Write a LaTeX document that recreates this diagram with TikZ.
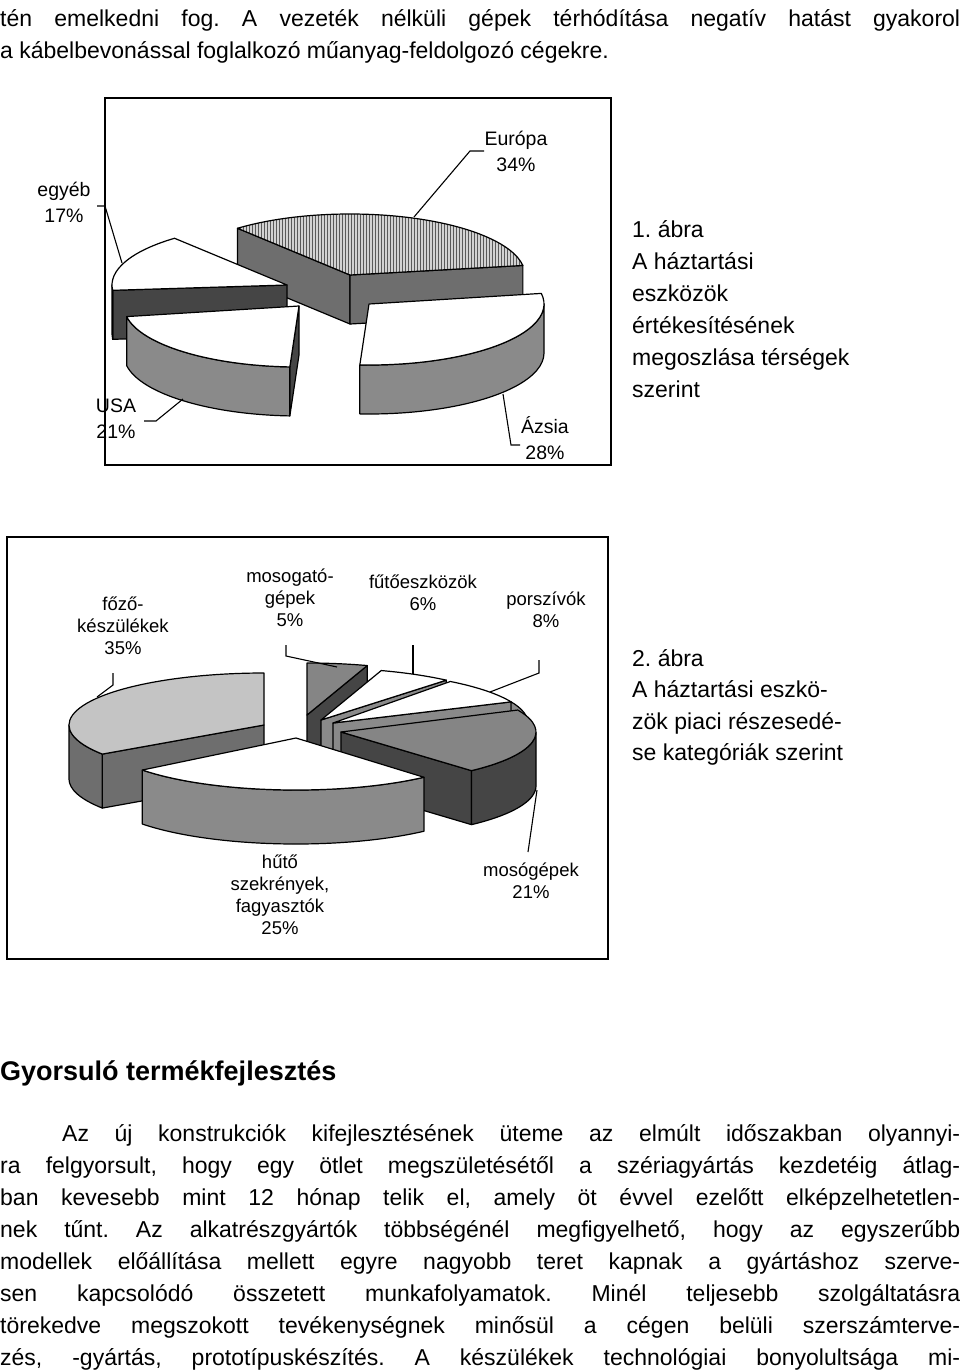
\documentclass[tikz,border=0pt]{standalone}
\usepackage{fontspec}
\setmainfont{Liberation Sans}
\frenchspacing
\usetikzlibrary{calc,patterns}
\definecolor{sidemid}{HTML}{8A8A8A}
\definecolor{sidedark}{HTML}{454545}
\definecolor{sideeu}{HTML}{6E6E6E}
\definecolor{topmid}{HTML}{858585}
\definecolor{toplight}{HTML}{C4C4C4}
\newcommand\ptop[7]{\filldraw[#7,draw=black,line width=1.2pt,line join=round] (#1,#2) -- ++(#5:#3 and #4) arc (#5:#6:#3 and #4) -- cycle;}
\newcommand\pside[8]{\filldraw[fill=#8,draw=black,line width=1.2pt,line join=round] ($(#1,#2)+(#5:#3 and #4)$) arc (#5:#6:#3 and #4) -- ++(0,#7) arc (#6:#5:#3 and #4) -- cycle;}
\newcommand\prad[7]{\filldraw[fill=#7,draw=black,line width=1.2pt,line join=round] (#1,#2) -- ++(#5:#3 and #4) -- ++(0,#6) -- (#1,#2+#6) -- cycle;}
\tikzset{lead/.style={draw=black,line width=1.1pt},
 clab/.style={font=\fontsize{19.5}{26}\selectfont,align=center,inner sep=0pt},
 dlab/.style={font=\fontsize{18.5}{22}\selectfont,align=center,inner sep=0pt},
 body/.style={font=\fontsize{23}{28}\selectfont,anchor=base west,inner sep=0pt},
 frame/.style={draw=black,line width=1.6pt}}
\begin{document}
\begin{tikzpicture}[x=1pt,y=-1pt]
\useasboundingbox (0,0) rectangle (960,1371);
% top text
\node[body] (t1) at (0,26) {\makebox[960pt][s]{tén emelkedni fog. A vezeték nélküli gépek térhódítása negatív hatást gyakorol}};
\node[body] (t2) at (0,58) {a kábelbevonással foglalkozó műanyag-feldolgozó cégekre.};
% chart 1
\draw[frame] (105,98) rectangle (611,465);
% Europe
\prad{350}{275}{175}{61}{230}{49}{sideeu}
\prad{350}{275}{175}{61}{351}{49}{sideeu}
\ptop{350}{275}{175}{61}{230}{351}{preaction={fill=gray!35},pattern=vertical lines,pattern color=gray!70!black}
% egyeb
\prad{287}{285}{175}{61}{175}{49}{sidedark}
\pside{287}{285}{175}{61}{175}{180}{49}{sidedark}
\ptop{287}{285}{175}{61}{175}{230}{fill=white}
% Azsia
\pside{369}{304}{175}{61}{0}{93}{49}{sidemid}
\ptop{369}{304}{175}{61}{350}{453}{fill=white}
% USA
\prad{299}{306}{175}{61}{93}{49}{sidedark}
\pside{299}{306}{175}{61}{93}{170}{49}{sidemid}
\ptop{299}{306}{175}{61}{93}{170}{fill=white}
% labels chart 1
\node[clab] (eu) at (516,151) {Európa\\34\%};
\node[clab] (eg) at (64,202) {egyéb\\17\%};
\node[clab] (us) at (116,419) {USA\\21\%};
\node[clab] (az) at (545,438) {Ázsia\\28\%};
\coordinate (eu1) at (414,217); \coordinate (eu2) at (470,151); \coordinate (eu3) at (484,151);
\draw[lead] (eu1) -- (eu2) -- (eu3);
\coordinate (eg1) at (122,263); \coordinate (eg2) at (105,206); \coordinate (eg3) at (97,206);
\draw[lead] (eg1) -- (eg2) -- (eg3);
\coordinate (us1) at (183,399); \coordinate (us2) at (156,421); \coordinate (us3) at (144,421);
\draw[lead] (us1) -- (us2) -- (us3);
\coordinate (az1) at (503,394); \coordinate (az2) at (511,445); \coordinate (az3) at (520,445);
\draw[lead] (az1) -- (az2) -- (az3);
% caption 1
\foreach \t/\y in {1. ábra/229,A háztartási/261,eszközök/293,értékesítésének/325,megoszlása térségek/357,szerint/389}
  \node[body] at (632,\y+8) {\t};
% chart 2
\draw[frame] (7,537) rectangle (608,959);
% mosogato
\prad{307}{715}{195}{52}{288}{54}{sidedark}
\ptop{307}{715}{195}{52}{270}{288}{fill=topmid}
% futo
\prad{321}{720}{195}{52}{310}{54}{sidemid}
\ptop{321}{720}{195}{52}{288}{310}{fill=white}
% porszivo
\prad{333}{723}{195}{52}{336}{54}{sidemid}
\pside{333}{723}{195}{52}{336}{360}{54}{sidemid}
\ptop{333}{723}{195}{52}{307}{336}{fill=white}
% fozo
\prad{264}{725}{195}{52}{146}{54}{sideeu}
\pside{264}{725}{195}{52}{146}{180}{54}{sideeu}
\ptop{264}{725}{195}{52}{146}{270}{fill=toplight}
% mosogep
\prad{341}{732}{195}{52}{408}{54}{sidedark}
\pside{341}{732}{195}{52}{360}{408}{54}{sidedark}
\ptop{341}{732}{195}{52}{335}{408}{fill=topmid}
% huto
\pside{296}{738}{195}{52}{49}{142}{54}{sidemid}
\ptop{296}{738}{195}{52}{49}{142}{fill=white}
% labels chart 2
\node[dlab] (fz) at (123,626) {főző-\\készülékek\\35\%};
\node[dlab] (mg) at (290,598) {mosogató-\\gépek\\5\%};
\node[dlab] (fu) at (423,593) {fűtőeszközök\\6\%};
\node[dlab] (po) at (546,610) {porszívók\\8\%};
\node[dlab] (hu) at (280,895) {hűtő\\szekrények,\\fagyasztók\\25\%};
\node[dlab] (ms) at (531,881) {mosógépek\\21\%};
\coordinate (fz1) at (113,673); \coordinate (fz2) at (113,685); \coordinate (fz3) at (97,697);
\draw[lead] (fz1) -- (fz2) -- (fz3);
\coordinate (mg1) at (286,645); \coordinate (mg2) at (286,656); \coordinate (mg3) at (337,667);
\draw[lead] (mg1) -- (mg2) -- (mg3);
\coordinate (fu1) at (413,645); \coordinate (fu2) at (413,674);
\draw[lead] (fu1) -- (fu2);
\coordinate (po1) at (539,660); \coordinate (po2) at (539,673); \coordinate (po3) at (490,692);
\draw[lead] (po1) -- (po2) -- (po3);
\coordinate (ms1) at (537,790); \coordinate (ms2) at (528,852);
\draw[lead] (ms1) -- (ms2);
% caption 2
\foreach \t/\y in {2. ábra/658,A háztartási eszkö-/689,zök piaci részesedé-/721,se kategóriák szerint/752}
  \node[body] at (632,\y+8) {\t};
% heading
\node[body,font=\fontsize{27}{32}\selectfont\bfseries] (h) at (0,1080) {Gyorsuló termékfejlesztés};
% paragraph
\node[body] (p1) at (62,1141) {\makebox[898pt][s]{Az új konstrukciók kifejlesztésének üteme az elmúlt időszakban olyannyi-}};
\node[body] (p2) at (0,1173) {\makebox[960pt][s]{ra felgyorsult, hogy egy ötlet megszületésétől a szériagyártás kezdetéig átlag-}};
\node[body] (p3) at (0,1205) {\makebox[960pt][s]{ban kevesebb mint 12 hónap telik el, amely öt évvel ezelőtt elképzelhetetlen-}};
\node[body] (p4) at (0,1237) {\makebox[960pt][s]{nek tűnt. Az alkatrészgyártók többségénél megfigyelhető, hogy az egyszerűbb}};
\node[body] (p5) at (0,1269) {\makebox[960pt][s]{modellek előállítása mellett egyre nagyobb teret kapnak a gyártáshoz szerve-}};
\node[body] (p6) at (0,1301) {\makebox[960pt][s]{sen kapcsolódó összetett munkafolyamatok. Minél teljesebb szolgáltatásra}};
\node[body] (p7) at (0,1333) {\makebox[960pt][s]{törekedve megszokott tevékenységnek minősül a cégen belüli szerszámterve-}};
\node[body] (p8) at (0,1365) {\makebox[960pt][s]{zés, -gyártás, prototípuskészítés. A készülékek technológiai bonyolultsága mi-}};
\end{tikzpicture}
\end{document}
